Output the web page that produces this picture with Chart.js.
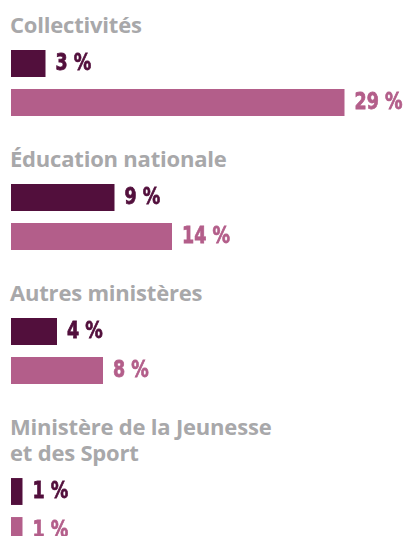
<!DOCTYPE html>
<html lang="fr">
<head>
<meta charset="utf-8">
<script src="https://cdn.jsdelivr.net/npm/chart.js@4"></script>
<style>
  body { margin: 0; padding-top: 11px; background: #fff; width: 405px; overflow: hidden; }
  .groupe { margin-bottom: 23px; }
  .titre { font: 700 22px 'Open Sans', sans-serif; line-height: 26px; color: #a8a8aa; margin-left: 10px; letter-spacing: -0.2px; }
  canvas { display: block; margin-top: 7px; }
</style>
</head>
<body>
<div id="graphiques"></div>
<script>
const categories = ['Collectivités', 'Éducation nationale', 'Autres ministères', 'Ministère de la Jeunesse\net des Sport'];
const serieFonce = [3, 9, 4, 1];
const serieClaire = [29, 14, 8, 1];
const couleurs = ['#520f3c', '#b35e8a'];

// valeurs en % au bout des barres, police resserrée
const etiquettes = {
  id: 'etiquettes',
  afterDatasetsDraw(chart) {
    const ctx = chart.ctx;
    chart.data.datasets.forEach((ds, i) => {
      chart.getDatasetMeta(i).data.forEach((barre, j) => {
        ctx.save();
        ctx.font = "bold 23px 'DejaVu Sans', sans-serif";
        ctx.textBaseline = 'middle';
        ctx.fillStyle = ds.backgroundColor;
        ctx.strokeStyle = ds.backgroundColor;
        ctx.lineWidth = 0.8;
        ctx.translate(barre.x + 10, barre.y + 1);
        ctx.scale(0.76, 1);
        const texte = ds.data[j] + '\u00a0%';
        ctx.fillText(texte, 0, 0);
        ctx.strokeText(texte, 0, 0);
        ctx.restore();
      });
    });
  }
};

const zone = document.getElementById('graphiques');
categories.forEach((cat, i) => {
  const groupe = document.createElement('div');
  groupe.className = 'groupe';
  const titre = document.createElement('div');
  titre.className = 'titre';
  titre.innerHTML = cat.replace('\n', '<br>');
  const canvas = document.createElement('canvas');
  canvas.width = 405;
  canvas.height = 78;
  groupe.appendChild(titre);
  groupe.appendChild(canvas);
  zone.appendChild(groupe);

  new Chart(canvas.getContext('2d'), {
    type: 'bar',
    data: {
      labels: [cat],
      datasets: [
        { data: [serieFonce[i]], backgroundColor: couleurs[0] },
        { data: [serieClaire[i]], backgroundColor: couleurs[1] }
      ]
    },
    options: {
      indexAxis: 'y',
      responsive: false,
      animation: false,
      devicePixelRatio: 1,
      categoryPercentage: 1,
      barPercentage: 0.69,
      layout: { padding: { left: 11, right: 3, top: 0, bottom: 0 } },
      scales: {
        x: { display: false, min: 0, max: 34 },
        y: { display: false }
      },
      plugins: { legend: { display: false }, tooltip: { enabled: false } }
    },
    plugins: [etiquettes]
  });
});
</script>
</body>
</html>
